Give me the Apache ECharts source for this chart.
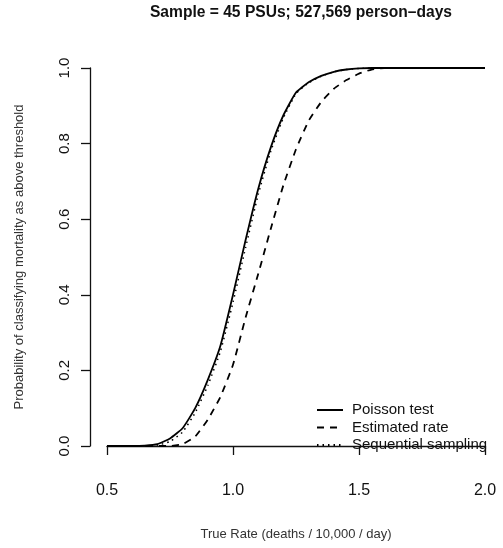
<!DOCTYPE html>
<html>
<head>
<meta charset="utf-8">
<script src="https://cdn.jsdelivr.net/npm/echarts@6/dist/echarts.min.js"></script>
<style>
html,body{margin:0;padding:0;background:#fff;}
#c{width:503px;height:548px;}
</style>
</head>
<body>
<div id="c"></div>
<script>
var trueRate = [0.5,0.55,0.6,0.65,0.7,0.75,0.8,0.85,0.9,0.95,1.0,1.05,1.1,1.15,1.2,1.25,1.3,1.35,1.4,1.45,1.5,1.55,1.6,1.65,1.7,1.75,1.8,1.85,1.9,1.95,2.0];
var poissonTest = [0,0,0,0.001,0.005,0.02,0.047,0.10,0.175,0.265,0.40,0.545,0.68,0.79,0.875,0.935,0.962,0.979,0.99,0.996,0.999,1,1,1,1,1,1,1,1,1,1];
var estimatedRate = [0,0,0,0,0,0,0.005,0.025,0.07,0.13,0.215,0.34,0.455,0.575,0.69,0.785,0.86,0.91,0.945,0.968,0.985,0.996,1,1,1,1,1,1,1,1,1];
var sequentialSampling = [0,0,0,0,0.002,0.012,0.037,0.088,0.16,0.25,0.38,0.525,0.665,0.78,0.868,0.932,0.961,0.978,0.99,0.996,0.999,1,1,1,1,1,1,1,1,1,1];
var xTicks = [0.5,1.0,1.5,2.0];
var yTicks = [0.0,0.2,0.4,0.6,0.8,1.0];
var seriesNames = ['Poisson test','Estimated rate','Sequential sampling'];
var titleText = 'Sample = 45 PSUs; 527,569 person\u2013days';
var xTitle = 'True Rate (deaths / 10,000 / day)';
var yTitle = 'Probability of classifying mortality as above threshold';

function pairs(ys){ return trueRate.map(function(x,i){ return [x, ys[i]]; }); }
var font = 'Liberation Sans, Arial, Helvetica, sans-serif';
var chart = echarts.init(document.getElementById('c'), null, {renderer:'canvas'});
chart.setOption({
  animation:false,
  backgroundColor:'#fff',
  title:{text:titleText,left:296,textAlign:'center',top:0,
    textStyle:{fontFamily:font,fontSize:15.6,fontWeight:'bold',color:'#111'}},
  grid:{left:107,right:18,top:68,bottom:102,containLabel:false},
  xAxis:{type:'value',min:0.5,max:2.0,interval:0.5,offset:16,
    name:xTitle,nameLocation:'middle',nameGap:66,
    nameTextStyle:{fontFamily:font,fontSize:13,color:'#333'},
    axisLine:{show:true,lineStyle:{color:'#111',width:1.3}},
    axisTick:{show:true,length:9,inside:false,lineStyle:{color:'#111',width:1.3}},
    axisLabel:{fontFamily:font,fontSize:16,color:'#111',margin:21,
      formatter:function(v){return v.toFixed(1);}},
    splitLine:{show:false}},
  yAxis:{type:'value',min:0,max:1,interval:0.2,offset:17,
    name:yTitle,nameLocation:'middle',nameGap:64,nameRotate:90,
    nameTextStyle:{fontFamily:font,fontSize:13,color:'#333'},
    axisLine:{show:true,lineStyle:{color:'#111',width:1.3}},
    axisTick:{show:true,length:9,inside:false,lineStyle:{color:'#111',width:1.3}},
    axisLabel:{fontFamily:font,fontSize:15,color:'#111',rotate:90,margin:18,
      formatter:function(v){return v.toFixed(1);}},
    splitLine:{show:false}},
  legend:{show:true,orient:'vertical',left:311,top:397,itemWidth:26,itemHeight:12,itemGap:1.5,
    data:seriesNames,itemStyle:{opacity:0},
    textStyle:{fontFamily:font,fontSize:15,lineHeight:16,color:'#111',padding:[0,0,0,4]}},
  series:[
    {name:seriesNames[0],type:'line',data:pairs(poissonTest),symbol:'none',smooth:0.15,
      lineStyle:{color:'#000',width:1.8,type:'solid'},itemStyle:{color:'#000'}},
    {name:seriesNames[1],type:'line',data:pairs(estimatedRate),symbol:'none',smooth:0.15,
      lineStyle:{color:'#000',width:1.8,type:[7,6]},itemStyle:{color:'#000'}},
    {name:seriesNames[2],type:'line',data:pairs(sequentialSampling),symbol:'none',smooth:0.15,
      lineStyle:{color:'#000',width:1.5,type:[1.5,4]},itemStyle:{color:'#000'}}
  ]
});
</script>
</body>
</html>
